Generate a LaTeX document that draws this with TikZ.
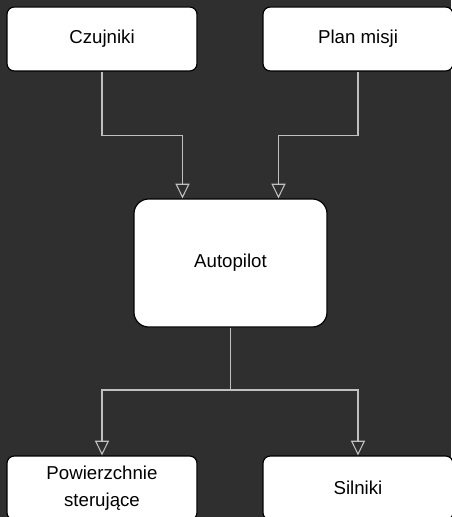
\documentclass[tikz,border=0pt]{standalone}
\usepackage{fontspec}
\setmainfont{Liberation Sans}
\usetikzlibrary{arrows.meta}
\definecolor{bgdark}{RGB}{47,47,47}
\definecolor{wiregray}{RGB}{192,192,192}

\begin{document}
\begin{tikzpicture}[x=0.75pt,y=0.75pt,yscale=-1,xscale=1,
  block/.style={draw=black, line width=0.9pt, fill=white, align=center, inner sep=0pt,
    font=\fontsize{14}{20}\selectfont},
  smallblock/.style={block, rounded corners=5.5pt, minimum width=142.5pt, minimum height=48pt},
  bigblock/.style={block, rounded corners=11pt, minimum width=144.75pt, minimum height=96pt},
  link/.style={draw=wiregray, line width=0.8pt},
  wire/.style={link, -{Triangle[open, length=11pt, width=10.5pt]}}]
%background, set diagram size to 451 x 517
\fill[bgdark] (0,0) rectangle (451,517);
\useasboundingbox (0,0) rectangle (451,517);

% Blocks
\node[smallblock] (czujniki) at (102,39) {Czujniki};
\node[smallblock] (plan) at (358,39) {Plan misji};
\node[bigblock] (autopilot) at (230.5,263) {Autopilot};
\node[smallblock] (powierzchnie) at (102,488) {Powierzchnie\\sterujące};
\node[smallblock] (silniki) at (358,488) {Silniki};

% Inputs
\draw[wire] (czujniki.south) -- ++(0,64) -| ([xshift=-36pt]autopilot.north);
\draw[wire] (plan.south) -- ++(0,64) -| ([xshift=36pt]autopilot.north);

% Outputs
\coordinate (split) at (230.5,390);
\draw[link] (autopilot.south) -- (split);
\draw[wire] (split) -| (powierzchnie.north);
\draw[wire] (split) -| (silniki.north);

\end{tikzpicture}
\end{document}
